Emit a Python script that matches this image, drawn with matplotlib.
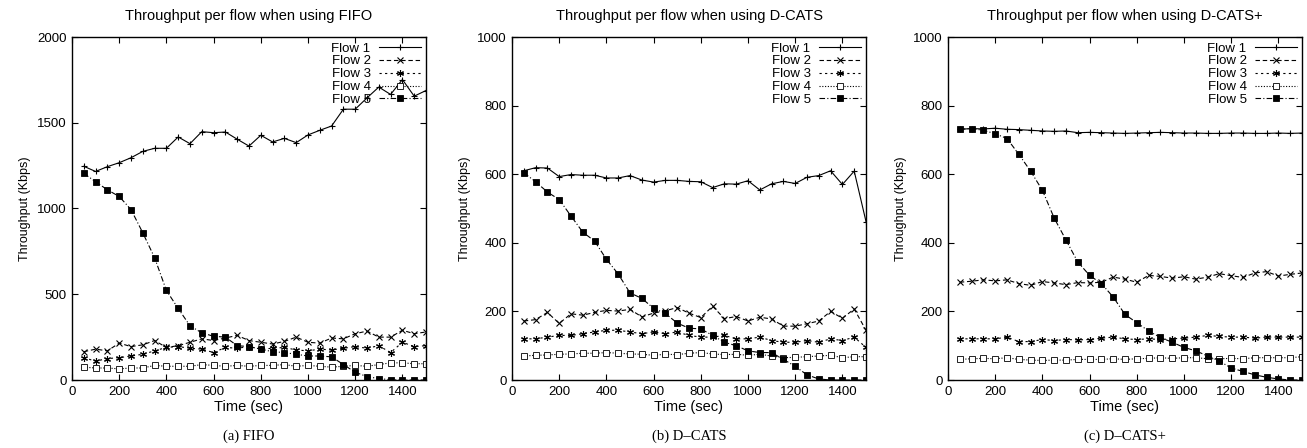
import matplotlib
matplotlib.use('Agg')
import matplotlib.pyplot as plt

plt.rcParams['font.family'] = ['Liberation Sans', 'DejaVu Sans']

time_sec = [50, 100, 150, 200, 250, 300, 350, 400, 450, 500,
            550, 600, 650, 700, 750, 800, 850, 900, 950, 1000,
            1050, 1100, 1150, 1200, 1250, 1300, 1350, 1400, 1450, 1500]
flow_names = ['Flow 1', 'Flow 2', 'Flow 3', 'Flow 4', 'Flow 5']

# (a) FIFO
fifo_f1 = [1246, 1216, 1244, 1267, 1296, 1333, 1351, 1351, 1417, 1378,
           1448, 1442, 1446, 1404, 1364, 1427, 1388, 1409, 1384, 1429,
           1456, 1481, 1579, 1579, 1645, 1708, 1665, 1752, 1655, 1688]
fifo_f2 = [165, 180, 170, 215, 195, 205, 230, 190, 200, 220,
           240, 230, 245, 260, 230, 220, 210, 225, 250, 220,
           215, 245, 240, 270, 285, 250, 250, 290, 270, 280]
fifo_f3 = [130, 110, 125, 130, 140, 150, 170, 190, 195, 185,
           180, 160, 190, 185, 195, 180, 185, 190, 175, 170,
           180, 175, 185, 195, 185, 200, 160, 220, 195, 200]
fifo_f4 = [75, 70, 70, 65, 70, 70, 85, 80, 80, 80,
           90, 85, 80, 85, 80, 85, 85, 90, 80, 85,
           80, 75, 80, 85, 80, 90, 100, 100, 95, 95]
fifo_f5 = [1205, 1156, 1109, 1070, 994, 858, 713, 522, 417, 316,
           275, 255, 250, 200, 195, 180, 165, 160, 150, 140,
           140, 135, 90, 45, 20, 8, 2, 0, 0, 0]

# (b) D-CATS
dcats_f1 = [610, 619, 618, 593, 599, 597, 597, 589, 589, 596,
            583, 577, 582, 582, 579, 578, 561, 572, 571, 581,
            554, 572, 579, 573, 591, 596, 610, 570, 609, 462]
dcats_f2 = [172, 176, 197, 165, 193, 189, 197, 203, 201, 206,
            184, 195, 202, 211, 195, 182, 215, 179, 185, 172,
            183, 178, 157, 157, 164, 172, 200, 180, 207, 145]
dcats_f3 = [120, 120, 125, 130, 130, 135, 140, 145, 145, 140,
            135, 140, 135, 140, 130, 125, 125, 130, 120, 120,
            125, 115, 110, 110, 115, 110, 120, 115, 125, 95]
dcats_f4 = [70, 72, 73, 75, 76, 78, 78, 80, 78, 76,
            75, 72, 75, 74, 78, 80, 76, 74, 75, 72,
            75, 70, 65, 66, 68, 70, 72, 65, 68, 68]
dcats_f5 = [604, 578, 548, 526, 478, 431, 405, 352, 309, 254,
            238, 209, 194, 166, 151, 149, 130, 110, 100, 85,
            80, 80, 60, 40, 15, 3, 0, 0, 0, 0]

# (c) D-CATS+
dcatsp_f1 = [731, 733, 732, 734, 731, 730, 728, 726, 725, 726,
             721, 722, 721, 720, 719, 720, 721, 722, 721, 720,
             720, 719, 719, 720, 720, 719, 719, 720, 719, 720]
dcatsp_f2 = [285, 288, 292, 289, 292, 281, 276, 287, 283, 278,
             284, 283, 285, 300, 294, 285, 305, 302, 297, 301,
             294, 300, 310, 304, 299, 312, 316, 303, 308, 312]
dcatsp_f3 = [120, 120, 120, 120, 125, 112, 112, 118, 115, 118,
             117, 118, 122, 125, 120, 118, 120, 118, 120, 122,
             125, 130, 127, 125, 125, 122, 125, 125, 125, 125]
dcatsp_f4 = [60, 62, 63, 62, 65, 60, 58, 57, 58, 58,
             60, 60, 60, 62, 60, 62, 63, 65, 63, 65,
             65, 62, 62, 63, 62, 65, 65, 65, 65, 68]
dcatsp_f5 = [731, 733, 728, 718, 704, 658, 609, 553, 472, 408,
             344, 305, 281, 242, 191, 167, 143, 124, 110, 95,
             85, 70, 55, 35, 25, 15, 8, 3, 0, 0]

panels = [
    ('Throughput per flow when using FIFO', '(a) FIFO',
     [fifo_f1, fifo_f2, fifo_f3, fifo_f4, fifo_f5], 2000, 500),
    ('Throughput per flow when using D-CATS', '(b) D\u2013CATS',
     [dcats_f1, dcats_f2, dcats_f3, dcats_f4, dcats_f5], 1000, 200),
    ('Throughput per flow when using D-CATS+', '(c) D\u2013CATS+',
     [dcatsp_f1, dcatsp_f2, dcatsp_f3, dcatsp_f4, dcatsp_f5], 1000, 200),
]

# gnuplot-ish line types
styles = [
    dict(linestyle='-', marker='+', markersize=5, mew=0.8, mfc='black'),
    dict(linestyle=(0, (4, 2.5)), marker='x', markersize=4, mew=0.8, mfc='black'),
    dict(linestyle=(0, (2, 3)), marker=(6, 2, 0), markersize=5, mew=0.8, mfc='black'),
    dict(linestyle=(0, (1, 1.5)), marker='s', markersize=4, mew=0.6, mfc='white'),
    dict(linestyle=(0, (5, 2, 1, 2)), marker='s', markersize=4.5, mew=0.6, mfc='black'),
]

fig = plt.figure(figsize=(13.07, 4.48), dpi=100)
lefts = [72 / 1307, 512 / 1307, 948 / 1307]
bottom = (448 - 380) / 448
width = 354 / 1307
height = 343 / 448

for left, (title, caption, flows, ymax, ystep) in zip(lefts, panels):
    ax = fig.add_axes([left, bottom, width, height])
    for name, vals, st in zip(flow_names, flows, styles):
        ax.plot(time_sec, vals, color='black', lw=0.8, mec='black', label=name, **st)
    ax.set_xlim(0, 1500)
    ax.set_ylim(0, ymax)
    ax.set_xticks(range(0, 1401, 200))
    ax.set_yticks(range(0, ymax + 1, ystep))
    ax.tick_params(direction='in', top=True, right=True, labelsize=9.5, length=4, pad=4)
    ax.set_title(title, fontsize=10.5, pad=12)
    ax.set_xlabel('Time (sec)', fontsize=10.5, labelpad=2)
    ax.set_ylabel('Throughput (Kbps)', fontsize=9, labelpad=4)
    for sp in ax.spines.values():
        sp.set_linewidth(1.0)
    ax.legend(loc='upper right', frameon=False, markerfirst=False, fontsize=9.5,
              handlelength=3.2, handletextpad=0.6, labelspacing=0.05,
              borderaxespad=0.2, borderpad=0.2)
    fig.text(left + width / 2, 0.012, caption, ha='center', va='bottom',
             fontsize=10.5, family=['Liberation Serif', 'DejaVu Serif'])

fig.savefig('out.png', dpi=100)
